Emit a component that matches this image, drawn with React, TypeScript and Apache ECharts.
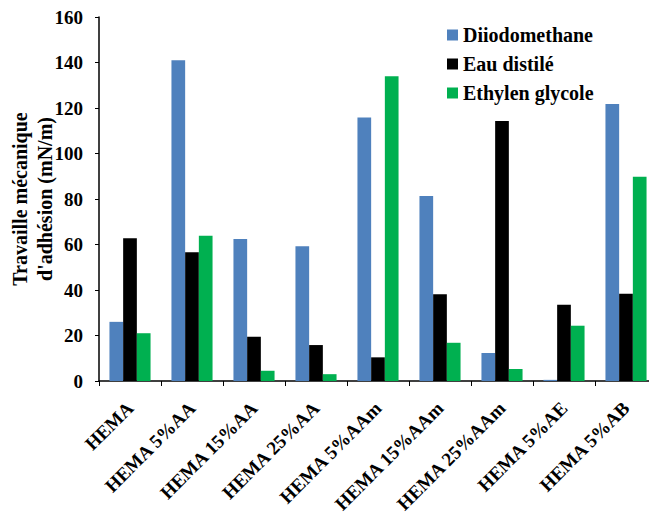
import React, { useEffect, useRef } from "react";
import * as echarts from "echarts";

const categories = [
  "HEMA",
  "HEMA 5%AA",
  "HEMA 15%AA",
  "HEMA 25%AA",
  "HEMA 5%AAm",
  "HEMA 15%AAm",
  "HEMA 25%AAm",
  "HEMA 5%AE",
  "HEMA 5%AB",
];
const diiodomethane = [26, 141, 62.4, 59.2, 115.8, 81.3, 12.3, 0.5, 121.8];
const eauDistile = [62.8, 56.6, 19.5, 15.8, 10.4, 38.1, 114.3, 33.5, 38.4];
const ethylenGlycole = [21, 63.9, 4.5, 3, 134, 16.8, 5.3, 24.3, 89.8];
const seriesNames = ["Diiodomethane", "Eau distilé", "Ethylen glycole"];
const colors = ["#4F81BD", "#000000", "#00B050"];

const FONT = "Liberation Serif, Times New Roman, serif";

export default function App() {
  const ref = useRef<HTMLDivElement>(null);
  useEffect(() => {
    if (!ref.current) return;
    const chart = echarts.init(ref.current, undefined, { renderer: "svg" });
    const values = [diiodomethane, eauDistile, ethylenGlycole];
    chart.setOption({
      animation: false,
      backgroundColor: "#ffffff",
      textStyle: { fontFamily: FONT, fontWeight: "bold" },
      grid: {
        left: 99,
        top: 17,
        bottom: 139,
        width: 558,
        containLabel: false,
        outerBoundsMode: "none",
      },
      legend: {
        orient: "vertical",
        left: 442,
        top: 20,
        itemWidth: 11,
        itemHeight: 11,
        itemGap: 9,
        icon: "rect",
        textStyle: { fontFamily: FONT, fontWeight: "bold", fontSize: 20, color: "#000" },
        data: seriesNames,
      },
      xAxis: {
        type: "category",
        data: categories,
        axisLine: { lineStyle: { color: "#000", width: 1.5 } },
        axisTick: { show: true, length: 5, lineStyle: { color: "#000" } },
        axisLabel: {
          rotate: 45,
          interval: 0,
          margin: 24,
          fontFamily: FONT,
          fontWeight: "bold",
          fontSize: 19,
          color: "#000",
        },
      },
      yAxis: {
        type: "value",
        min: 0,
        max: 160,
        interval: 20,
        name: "Travaille mécanique\nd'adhésion (mN/m)",
        nameLocation: "middle",
        nameGap: 42,
        nameMoveOverlap: false,
        nameTextStyle: {
          fontFamily: FONT,
          fontWeight: "bold",
          fontSize: 20,
          color: "#000",
          lineHeight: 25,
        },
        axisLine: { show: true, lineStyle: { color: "#000", width: 1.5 } },
        axisTick: { show: true, length: 4, lineStyle: { color: "#000" } },
        splitLine: { show: false },
        axisLabel: {
          margin: 16,
          fontFamily: FONT,
          fontWeight: "bold",
          fontSize: 19,
          color: "#000",
        },
      },
      series: seriesNames.map((name, i) => ({
        name,
        type: "bar",
        data: values[i],
        barWidth: 13.7,
        barGap: "0%",
        itemStyle: { color: colors[i] },
      })),
    });
    return () => chart.dispose();
  }, []);
  return <div ref={ref} style={{ width: 649, height: 520, position: "absolute", left: 0, top: 0 }} />;
}
